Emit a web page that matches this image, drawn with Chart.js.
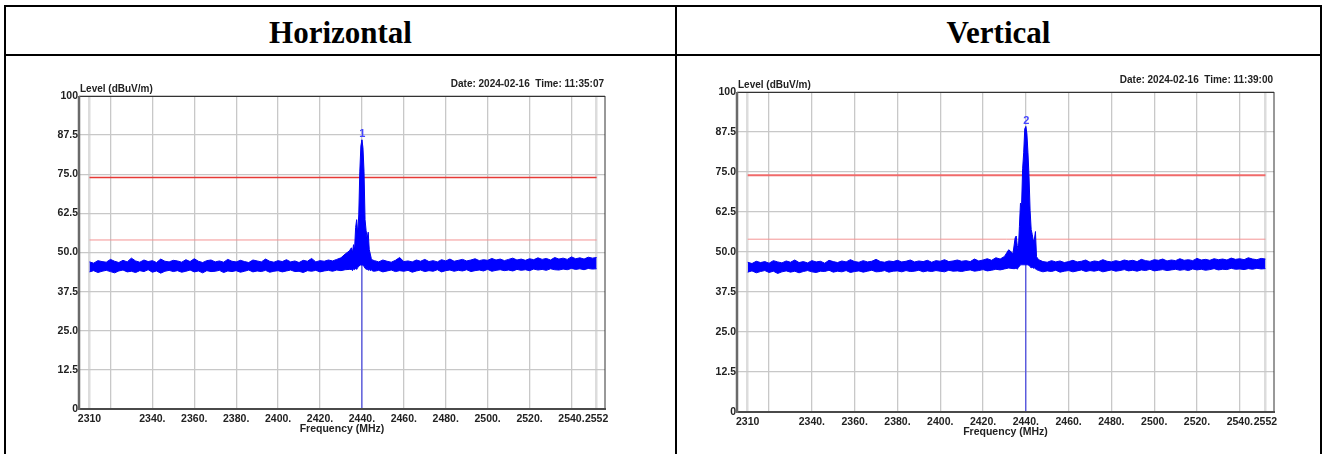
<!DOCTYPE html>
<html>
<head>
<meta charset="utf-8">
<script src="https://cdn.jsdelivr.net/npm/chart.js@4.4.1/dist/chart.umd.min.js"></script>
<style>
  html, body { margin: 0; padding: 0; background: #fff; }
  body { width: 1328px; height: 454px; overflow: hidden; position: relative; }
  .frame { position: absolute; left: 4px; top: 5px; width: 1318px; height: 480px; border: 2px solid #000; box-sizing: border-box; }
  .hline { position: absolute; left: 4px; top: 54px; width: 1318px; height: 2px; background: #000; }
  .vline { position: absolute; left: 675px; top: 5px; width: 2px; height: 480px; background: #000; }
  .head { position: absolute; top: 7px; height: 47px; text-align: center;
          font: bold 31px "Liberation Serif", "Times New Roman", serif; line-height: 52px; color: #000; }
  canvas { position: absolute; }
</style>
</head>
<body>
<div class="frame"></div>
<div class="hline"></div>
<div class="vline"></div>
<div class="head" style="left:6px;width:669px;">Horizontal</div>
<div class="head" style="left:677px;width:643px;">Vertical</div>
<canvas id="chart-h" width="590" height="384" style="left:30px;top:66px;"></canvas>
<canvas id="chart-v" width="600" height="391" style="left:688px;top:62px;"></canvas>

<script>
// --- data ---
const freqMHz = [
  2310, 2312, 2314, 2316, 2318, 2320, 2322, 2324, 2326, 2328, 2330, 2332, 2334, 2336, 2338, 2340,
  2342, 2344, 2346, 2348, 2350, 2352, 2354, 2356, 2358, 2360, 2362, 2364, 2366, 2368, 2370, 2372,
  2374, 2376, 2378, 2380, 2382, 2384, 2386, 2388, 2390, 2392, 2394, 2396, 2398, 2400, 2402, 2404,
  2406, 2408, 2410, 2412, 2414, 2416, 2418, 2420, 2422, 2424, 2426, 2428, 2430, 2432, 2434,
  2435, 2435.5, 2436, 2436.5, 2437, 2437.5, 2438, 2438.5, 2439, 2439.5, 2440, 2440.5, 2441,
  2441.5, 2442, 2442.5, 2443, 2443.5, 2444, 2444.5, 2445,
  2446, 2448, 2450, 2452, 2454, 2456, 2458, 2460, 2462, 2464, 2466, 2468, 2470, 2472, 2474, 2476,
  2478, 2480, 2482, 2484, 2486, 2488, 2490, 2492, 2494, 2496, 2498, 2500, 2502, 2504, 2506, 2508,
  2510, 2512, 2514, 2516, 2518, 2520, 2522, 2524, 2526, 2528, 2530, 2532, 2534, 2536, 2538, 2540,
  2542, 2544, 2546, 2548, 2550, 2552
];

// Horizontal: top and bottom of the trace (dBuV/m)
const horizHigh = [
  47.0, 46.6, 47.4, 47.1, 46.9, 47.8, 47.2, 46.8, 47.5, 47.0, 48.2, 47.3, 46.9, 47.6, 47.1, 47.4, 46.8, 47.9, 47.2, 47.0,
  47.5, 47.3, 46.9, 47.7, 47.1, 48.0, 47.2, 46.8, 47.4, 47.6, 47.0, 47.3, 46.9, 47.8, 47.2, 47.0, 47.5, 47.1, 46.8, 47.6,
  47.3, 47.0, 47.9, 47.2, 46.9, 47.4, 47.1, 47.7, 47.0, 47.3, 46.8, 47.5, 47.2, 48.1, 47.0, 47.4, 47.2, 47.6, 47.3, 47.8,
  48.3, 49.5, 50.5,
  51.5, 50.0, 52.5, 51.0, 58.0, 60.5, 56.0, 62.0, 76.0, 84.0, 86.0, 83.5, 76.0, 60.5, 57.0, 54.5, 56.5, 51.0, 49.5, 48.0, 47.6,
  47.4, 47.0, 47.6, 47.2, 46.9, 47.5, 48.4, 47.1, 47.3, 47.0, 47.6, 47.2, 47.8, 47.1, 47.4, 47.0, 47.7, 47.3, 47.9, 47.2,
  47.5, 47.8, 47.3, 47.6, 48.0, 47.4, 47.7, 47.5, 48.1, 47.6, 47.9, 47.4, 47.8, 48.2, 47.6, 47.9, 47.5, 48.0, 47.7, 48.3,
  47.8, 48.1, 47.6, 48.4, 47.9, 48.2, 47.8, 48.6, 48.0, 48.3, 47.9, 48.5, 48.2, 48.4
];
const horizLow = [
  43.8, 44.2, 43.6, 44.0, 44.3, 43.9, 43.5, 44.1, 44.4, 43.8, 44.0, 43.6, 44.2, 43.9, 44.5, 43.7, 44.1, 43.4, 44.0, 44.3,
  43.9, 44.2, 43.7, 44.0, 44.4, 43.8, 44.1, 43.5, 44.2, 43.9, 44.0, 44.3, 43.6, 44.1, 43.9, 44.2, 43.7, 44.0, 44.4, 43.8,
  44.1, 43.9, 44.3, 43.7, 44.0, 44.2, 43.8, 44.1, 44.4, 43.9, 44.0, 43.6, 44.2, 44.0, 44.3, 43.8, 44.1, 44.3, 44.0, 44.4,
  44.2, 44.5, 44.6,
  44.6, 44.2, 44.8, 44.5, 45.0, 44.6, 45.2, 45.5, 46.0, 46.0, 46.0, 46.0, 45.5, 45.0, 44.6, 44.8, 44.3, 44.6, 44.2, 44.5, 44.1,
  44.0, 44.3, 43.8, 44.1, 44.4, 43.9, 44.2, 44.0, 44.3, 43.7, 44.1, 44.4, 43.9, 44.2, 44.0, 44.5, 43.8, 44.2, 44.4, 44.0,
  44.3, 44.1, 44.5, 43.9, 44.2, 44.4, 44.1, 44.6, 44.0, 44.3, 44.5, 44.2, 44.4, 44.1, 44.6, 44.3, 44.5, 44.2, 44.7, 44.4,
  44.6, 44.3, 44.8, 44.5, 44.4, 44.7, 44.5, 44.9, 44.6, 44.8, 44.5, 44.9, 44.7, 44.8
];

// Vertical
const vertHigh = [
  46.8, 46.4, 47.1, 46.7, 47.0, 46.5, 47.3, 46.9, 46.6, 47.2, 46.8, 47.5, 46.7, 47.0, 46.6, 47.3, 46.9, 47.1, 46.5, 47.4,
  47.0, 46.7, 47.2, 46.9, 47.6, 47.0, 46.8, 47.3, 46.9, 47.1, 47.7, 47.0, 46.8, 47.2, 47.0, 47.4, 46.9, 47.1, 47.5, 46.9,
  47.2, 47.0, 47.4, 46.8, 47.3, 47.1, 47.6, 47.0, 47.2, 47.5, 47.1, 47.3, 47.0, 47.8, 47.2, 47.5, 47.9, 47.4, 48.2, 47.8,
  48.6, 50.7, 49.5,
  54.4, 55.0, 52.0, 50.5, 58.0, 65.3, 64.0, 76.0, 81.0, 88.5, 89.2, 87.0, 81.0, 73.5, 63.0, 57.0, 55.5, 53.5, 54.0, 56.4, 48.5,
  47.6, 47.0, 46.8, 47.3, 46.9, 47.2, 46.7, 47.0, 47.4, 46.9, 47.1, 47.5, 46.8, 47.2, 47.0, 47.6, 47.1, 46.9, 47.3, 47.0,
  47.5, 47.2, 47.4, 47.0, 47.7, 47.3, 47.1, 47.6, 47.4, 47.8, 47.2, 47.5, 47.3, 47.9, 47.4, 47.6, 47.3, 48.0, 47.5, 47.7,
  47.4, 47.9, 47.6, 47.8, 47.5, 48.1, 47.7, 47.9, 47.6, 48.2, 47.8, 47.6, 48.0, 47.8
];
const vertLow = [
  43.7, 44.1, 43.5, 43.9, 44.2, 43.6, 44.0, 43.3, 43.8, 44.1, 43.7, 44.0, 43.5, 43.9, 44.2, 43.8, 43.6, 44.0, 43.9, 44.3,
  43.7, 44.0, 43.8, 44.2, 43.6, 43.9, 44.1, 43.7, 44.0, 44.3, 43.8, 43.9, 44.2, 43.7, 44.0, 44.1, 43.8, 44.2, 43.9, 44.0,
  44.3, 43.8, 44.1, 43.9, 44.2, 44.0, 43.8, 44.3, 44.0, 44.1, 43.9, 44.2, 44.4, 44.0, 44.2, 44.5, 44.1, 44.3, 44.6, 44.4,
  44.7, 45.0, 44.8,
  44.8, 45.0, 44.6, 45.2, 45.5, 46.0, 46.0, 46.0, 46.0, 46.0, 46.0, 46.0, 46.0, 45.8, 45.5, 45.0, 45.3, 44.9, 45.1, 44.7, 44.5,
  44.2, 43.8, 44.1, 43.9, 44.3, 43.7, 44.0, 44.2, 43.8, 44.1, 44.4, 43.9, 44.2, 44.0, 44.3, 43.8, 44.1, 44.4, 44.0, 44.2,
  44.5, 44.1, 44.3, 44.0, 44.4, 44.2, 44.6, 44.1, 44.3, 44.5, 44.2, 44.4, 44.6, 44.3, 44.5, 44.2, 44.7, 44.4, 44.6, 44.3,
  44.5, 44.8, 44.4, 44.6, 44.5, 44.9, 44.6, 44.7, 44.5, 44.8, 44.6, 44.9, 44.7, 44.8
];

const limitLevels = [74, 54];
const limitSpan = [2310, 2552];
const markerFreq = [2440, 2440];
const markerLevel = [86.0, 89.2];
const markerNo = ['1', '2'];
const dateTexts = ['Date: 2024-02-16  Time: 11:35:07', 'Date: 2024-02-16  Time: 11:39:00'];

const xTickValues = [2310, 2320, 2340, 2360, 2380, 2400, 2420, 2440, 2460, 2480, 2500, 2520, 2540, 2552];
const xTickLabels = ['2310', '', '2340.', '2360.', '2380.', '2400.', '2420.', '2440.', '2460.', '2480.', '2500.', '2520.', '2540.', '2552'];
const yTickValues = [0, 12.5, 25, 37.5, 50, 62.5, 75, 87.5, 100];
const yTickLabels = ['0', '12.5', '25.0', '37.5', '50.0', '62.5', '75.0', '87.5', '100'];

const FONT = '"Liberation Sans", Arial, sans-serif';

function makeSpectrum(canvasId, high, low, idx, layout) {
  const upper = freqMHz.map((f, i) => ({ x: f, y: high[i] }));
  const lower = freqMHz.map((f, i) => ({ x: f, y: low[i] }));
  const limit = lv => limitSpan.map(f => ({ x: f, y: lv }));

  // frame, captions and marker number
  const decor = {
    id: 'decor' + idx,
    afterDatasetsDraw(chart) {
      const ctx = chart.ctx;
      const x = chart.scales.x.getPixelForValue(markerFreq[idx]);
      const y = chart.scales.y.getPixelForValue(markerLevel[idx]);
      ctx.save();
      ctx.fillStyle = '#4646ff';
      ctx.font = 'bold 11px ' + FONT;
      ctx.textAlign = 'center';
      ctx.textBaseline = 'alphabetic';
      ctx.fillText(markerNo[idx], x + 0.5, y - 3);
      ctx.restore();
    },
    afterDraw(chart) {
      const ctx = chart.ctx;
      const a = chart.chartArea;
      ctx.save();
      ctx.strokeStyle = '#333';
      ctx.lineWidth = 1;
      ctx.strokeRect(a.left + 0.5, a.top + 0.5, a.right - a.left - 0.5, a.bottom - a.top);
      ctx.strokeStyle = '#4a4a4a';
      ctx.lineWidth = 2;
      ctx.beginPath(); ctx.moveTo(a.left - 1, a.bottom); ctx.lineTo(a.right + 1, a.bottom); ctx.stroke();
      ctx.strokeStyle = '#6a6a6a';
      ctx.lineWidth = 2.5;
      ctx.beginPath(); ctx.moveTo(a.left, a.top); ctx.lineTo(a.left, a.bottom + 1); ctx.stroke();

      ctx.fillStyle = '#222';
      ctx.font = 'bold 10px ' + FONT;
      ctx.textBaseline = 'alphabetic';
      ctx.textAlign = 'left';
      ctx.fillText('Level (dBuV/m)', a.left + 1, a.top - 4);
      ctx.textAlign = 'right';
      ctx.fillText(dateTexts[idx], a.right - 1, a.top - 9);
      ctx.restore();
    }
  };

  return new Chart(document.getElementById(canvasId), {
    type: 'line',
    data: {
      datasets: [
        { data: upper, borderColor: '#0000f0', borderWidth: 1, backgroundColor: '#0000ff', fill: '+1', pointRadius: 0, tension: 0 },
        { data: lower, borderColor: '#0000f0', borderWidth: 1, fill: false, pointRadius: 0, tension: 0 },
        { data: [{ x: markerFreq[idx], y: 0 }, { x: markerFreq[idx], y: markerLevel[idx] }],
          borderColor: '#2a2ae8', borderWidth: 1, pointRadius: 0, fill: false },
        { data: limit(limitLevels[0]), borderColor: idx === 0 ? '#e63a36' : '#f06a6a', borderWidth: idx === 0 ? 1.5 : 2, pointRadius: 0, fill: false },
        { data: limit(limitLevels[1]), borderColor: '#f49494', borderWidth: 1, pointRadius: 0, fill: false }
      ]
    },
    options: {
      responsive: false,
      animation: false,
      parsing: false,
      layout: { padding: { top: layout.top, right: layout.right, left: 0, bottom: 0 } },
      plugins: { legend: { display: false }, tooltip: { enabled: false } },
      scales: {
        x: {
          type: 'linear', min: 2305, max: 2556,
          afterBuildTicks: s => { s.ticks = xTickValues.map(v => ({ value: v })); },
          afterFit: s => { s.height = 41; },
          ticks: {
            autoSkip: false, maxRotation: 0, padding: 5, color: '#222',
            font: { family: FONT, size: 10.5, weight: 'bold', lineHeight: 1 },
            callback: (v, i) => xTickLabels[i]
          },
          grid: {
            drawTicks: false,
            color: c => (c.tick && (c.tick.value === 2310 || c.tick.value === 2552)) ? '#dcdcdc' : '#c8c8c8',
            lineWidth: c => (c.tick && (c.tick.value === 2310 || c.tick.value === 2552)) ? 2.5 : 1.3
          },
          border: { display: false },
          title: { display: true, text: 'Frequency (MHz)', color: '#222', padding: { top: 1, bottom: 16 },
                   font: { family: FONT, size: 10.5, weight: 'bold', lineHeight: 1 } }
        },
        y: {
          type: 'linear', min: 0, max: 100,
          afterBuildTicks: s => { s.ticks = yTickValues.map(v => ({ value: v })); },
          afterFit: s => { s.width = 49; },
          ticks: {
            autoSkip: false, padding: 1, color: '#222',
            font: { family: FONT, size: 10.5, weight: 'bold', lineHeight: 1 },
            callback: (v, i) => yTickLabels[i]
          },
          grid: { drawTicks: false, color: '#c8c8c8', lineWidth: 1.3 },
          border: { display: false }
        }
      }
    },
    plugins: [decor]
  });
}

makeSpectrum('chart-h', horizHigh, horizLow, 0, { top: 30, right: 15 });
makeSpectrum('chart-v', vertHigh, vertLow, 1, { top: 30, right: 14 });
</script>
</body>
</html>
